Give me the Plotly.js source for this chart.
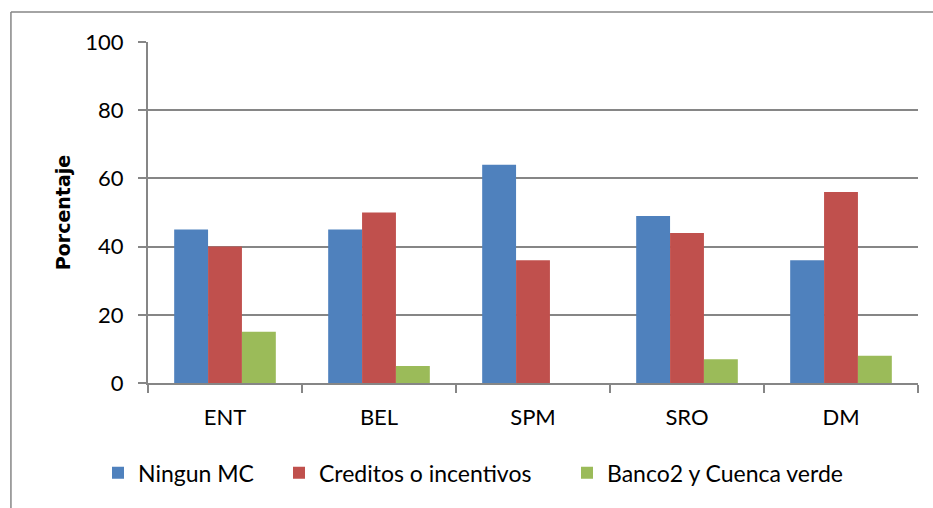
<!DOCTYPE html>
<html><head><meta charset="utf-8">
<script src="https://cdn.plot.ly/plotly-3.0.1.min.js"></script>
<style>html,body{margin:0;padding:0;background:#fff}#chart{width:933px;height:508px}</style>
</head><body><div id="chart"></div>
<script>
var categories = ["ENT", "BEL", "SPM", "SRO", "DM"];
var seriesNames = ["Ningun MC", "Creditos o incentivos", "Banco2 y Cuenca verde"];
var ningunMC = [45, 45, 64, 49, 36];
var creditos = [40, 50, 36, 44, 56];
var banco2 = [15, 5, 0, 7, 8];
var colors = ["#4F81BD", "#C0504D", "#9BBB59"];
var yTicks = [0, 20, 40, 60, 80, 100];

var values = [ningunMC, creditos, banco2];
var legendIds = ["legend", "legend2", "legend3"];
var traces = values.map(function(v, i){
  return {type:"bar", x:categories, y:v, name:seriesNames[i], legend:legendIds[i],
    marker:{color:colors[i], line:{width:0}}};
});
var font = "Lato, 'Open Sans', sans-serif";
function leg(px){
  return {orientation:"h", x:(px-148)/770, xanchor:"left", y:-0.2, yanchor:"top",
    font:{size:23, family:font}, bgcolor:"rgba(0,0,0,0)"};
}
var layout = {
  width:933, height:508,
  margin:{l:148, r:15, t:42, b:125},
  paper_bgcolor:"#fff", plot_bgcolor:"#fff",
  barmode:"group", bargap:0.34, bargroupgap:0,
  font:{family:font, size:22, color:"#000"},
  xaxis:{type:"category", tickson:"boundaries", ticks:"outside", ticklen:8, tickcolor:"#868686", tickwidth:2,
    showline:true, linecolor:"#868686", linewidth:2, showgrid:false, tickfont:{size:22, family:font},
    ticklabelstandoff:14},
  yaxis:{range:[0,100], tickvals:yTicks, ticks:"outside", ticklen:8, tickcolor:"#868686", tickwidth:2,
    showline:true, linecolor:"#868686", linewidth:2, gridcolor:"#868686", gridwidth:2, zeroline:false,
    tickfont:{size:22, family:font}, ticklabelstandoff:10,
    title:{text:"Porcentaje", font:{family:"'DejaVu Sans', sans-serif", size:19, weight:"bold"}, standoff:10}},
  legend:leg(98), legend2:leg(279), legend3:leg(567),
  shapes:[
    {type:"line", xref:"paper", yref:"paper", x0:-0.178, x1:1.1, y0:1.088, y1:1.088, line:{color:"#868686", width:1.5}},
    {type:"line", xref:"paper", yref:"paper", x0:-0.178, x1:-0.178, y0:1.088, y1:-0.4, line:{color:"#868686", width:1.5}}
  ],
  showlegend:true
};
Plotly.newPlot("chart", traces, layout, {displayModeBar:false, staticPlot:true});
</script></body></html>
